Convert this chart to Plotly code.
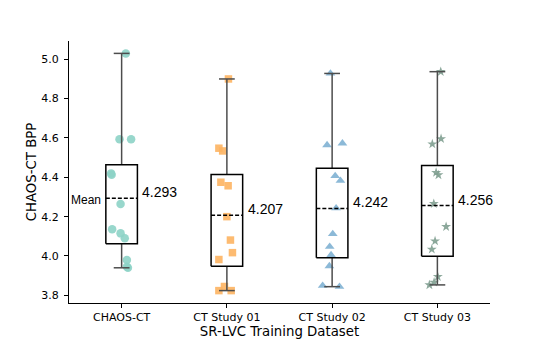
import numpy as np
import plotly.graph_objects as go

# Data (BPP per volume, 12 volumes per training set)
datasets = ["CHAOS-CT", "CT Study 01", "CT Study 02", "CT Study 03"]

chaos_ct = [5.030, 4.593, 4.593, 4.420, 4.413, 4.264, 4.136, 4.115, 4.090, 3.980, 3.940, 3.945]
ct_study_01 = [4.900, 4.548, 4.534, 4.375, 4.357, 4.200, 4.081, 4.017, 3.982, 3.845, 3.824, 3.824]
ct_study_02 = [4.928, 4.564, 4.573, 4.407, 4.383, 4.243, 4.112, 4.047, 4.005, 3.949, 3.849, 3.844]
ct_study_03 = [4.937, 4.569, 4.596, 4.424, 4.412, 4.266, 4.149, 4.076, 4.034, 3.895, 3.866, 3.853]

# horizontal jitter of the strip points (category units)
jitter_chaos = [0.04, -0.02, 0.09, -0.10, -0.095, -0.01, -0.09, -0.01, 0.03, 0.05, 0.06, 0.05]
jitter_01 = [0.015, -0.076, -0.04, -0.057, 0.012, 0.0, 0.034, 0.053, -0.076, -0.023, -0.076, 0.041]
jitter_02 = [-0.016, -0.048, 0.098, 0.029, 0.079, 0.038, 0.006, -0.023, -0.01, -0.026, -0.09, 0.07]
jitter_03 = [0.032, -0.048, 0.035, -0.012, 0.01, -0.034, 0.083, -0.022, -0.053, 0.004, -0.031, -0.076]

values = [chaos_ct, ct_study_01, ct_study_02, ct_study_03]
jitters = [jitter_chaos, jitter_01, jitter_02, jitter_03]
colors = ["#8dd3c7", "#fdb462", "#80b1d3", "#7f9e90"]
symbols = ["circle", "square", "triangle-up", "star"]
sizes = [8.5, 7.5, 8.5, 7.5]

fig = go.Figure()

half_w = 0.15
cap_w = 0.075

# strip points first
for i, (vals, jit) in enumerate(zip(values, jitters)):
    fig.add_trace(go.Scatter(
        x=[i + j for j in jit], y=vals, mode="markers",
        marker=dict(color=colors[i], symbol=symbols[i], size=sizes[i], opacity=0.9, line=dict(width=0)),
        showlegend=False, hoverinfo="y"
    ))

# boxes with whiskers and a dashed mean line
for i, vals in enumerate(values):
    v = np.array(vals)
    q1, q3 = np.percentile(v, [25, 75])
    iqr = q3 - q1
    lo = v[v >= q1 - 1.5 * iqr].min()
    hi = v[v <= q3 + 1.5 * iqr].max()
    m = v.mean()

    # whiskers + caps
    for a, b in [(q3, hi), (lo, q1)]:
        fig.add_trace(go.Scatter(x=[i, i], y=[a, b], mode="lines",
                                 line=dict(color="#4d4d4d", width=1.5), showlegend=False, hoverinfo="skip"))
    for c in [lo, hi]:
        fig.add_trace(go.Scatter(x=[i - cap_w, i + cap_w], y=[c, c], mode="lines",
                                 line=dict(color="#4d4d4d", width=1.5), showlegend=False, hoverinfo="skip"))
    # box
    fig.add_trace(go.Scatter(
        x=[i - half_w, i + half_w, i + half_w, i - half_w, i - half_w],
        y=[q1, q1, q3, q3, q1], mode="lines",
        line=dict(color="black", width=1.5), showlegend=False, hoverinfo="skip"))
    # mean
    fig.add_trace(go.Scatter(x=[i - half_w, i + half_w], y=[m, m], mode="lines",
                             line=dict(color="black", width=1.5, dash="4px,2px"),
                             showlegend=False, hoverinfo="skip"))
    fig.add_annotation(x=i + half_w, y=m, text=f"{m:.3f}", showarrow=False,
                       xanchor="left", yanchor="middle", xshift=3, yshift=6,
                       font=dict(family="Liberation Sans, Arial", size=14, color="black"))
    if i == 0:
        fig.add_annotation(x=i - half_w, y=m, text="Mean", showarrow=False,
                           xanchor="right", yanchor="middle", xshift=-3, yshift=-2,
                           font=dict(family="Liberation Sans, Arial", size=12, color="black"))

fig.update_layout(
    width=545, height=341,
    margin=dict(l=69, r=55, t=41, b=38, autoexpand=False),
    plot_bgcolor="white", paper_bgcolor="white",
    font=dict(family="DejaVu Sans", color="black"),
    showlegend=False,
)
fig.update_xaxes(
    range=[-0.5, 3.5], tickvals=list(range(len(datasets))), ticktext=datasets,
    showline=True, linecolor="black", linewidth=1.2, showgrid=False, zeroline=False,
    ticks="outside", ticklen=4, tickcolor="black", tickfont=dict(size=11),
    title=dict(text="SR-LVC Training Dataset", font=dict(size=13.3), standoff=2),
)
fig.update_yaxes(
    range=[3.761, 5.093], tickvals=[3.8, 4.0, 4.2, 4.4, 4.6, 4.8, 5.0], tickformat=".1f",
    showline=True, linecolor="black", linewidth=1.2, showgrid=False, zeroline=False,
    ticks="outside", ticklen=4, tickcolor="black", tickfont=dict(size=11),
    ticklabelstandoff=3,
    title=dict(text="CHAOS-CT BPP", font=dict(size=13.3), standoff=1),
)

# the page body has a default 8px margin; drop it so the figure sits at the window origin
fig.write_html("out.html", config={"displayModeBar": False},
               post_script="document.body.style.margin='0';")
